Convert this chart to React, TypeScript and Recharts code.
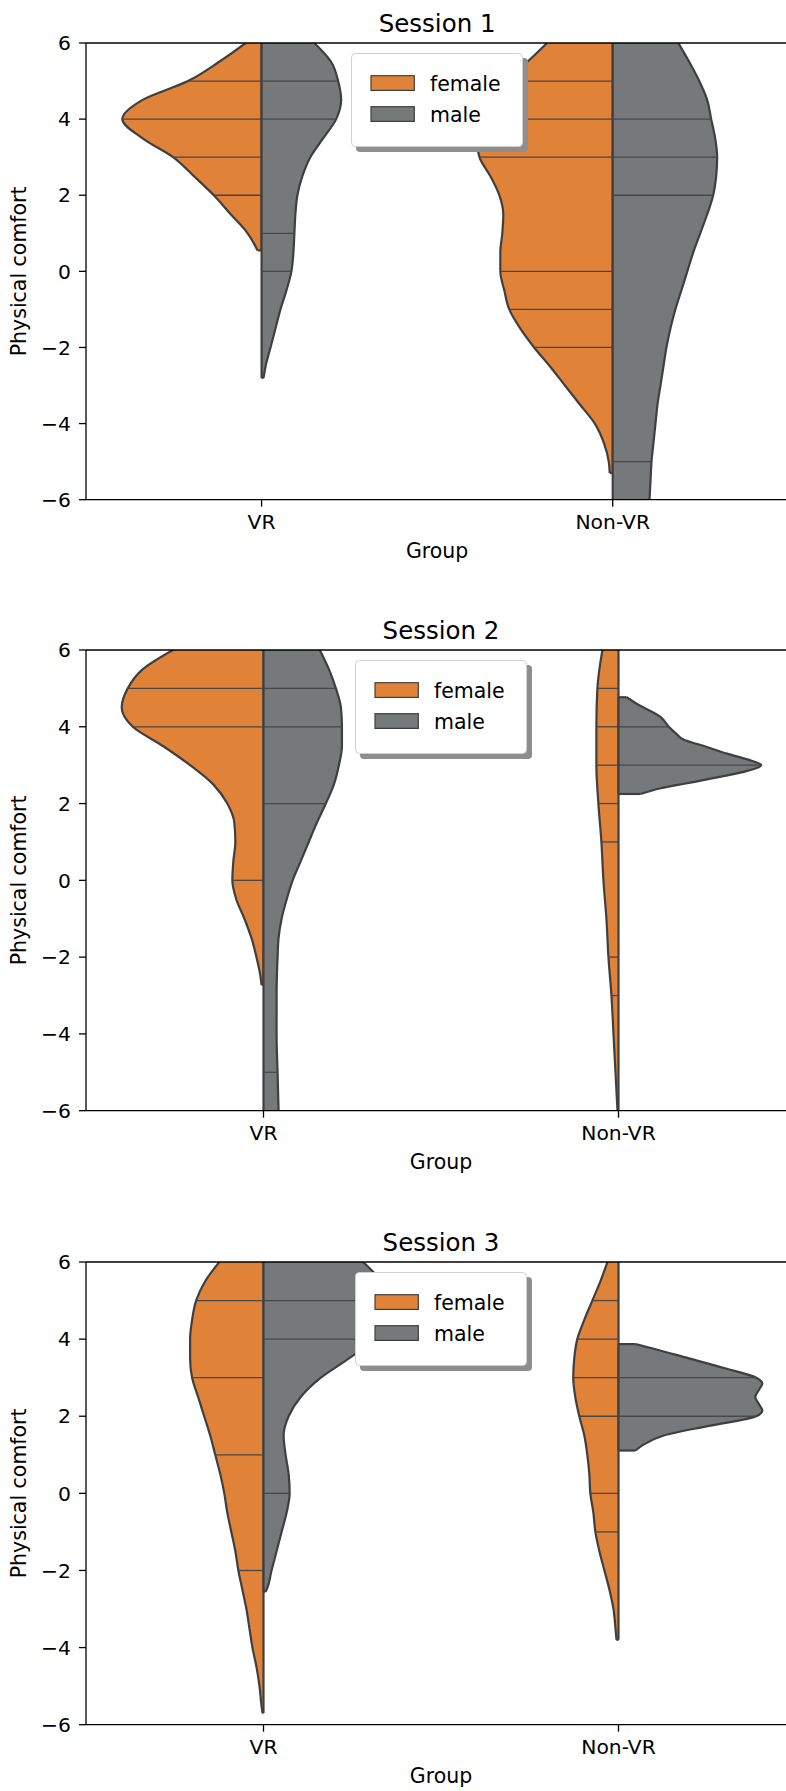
import { ComposedChart, Area, XAxis, YAxis, ReferenceLine } from 'recharts';

type Kde = [number, number][];

const groups = ['VR', 'Non-VR'];
const genders = ['female', 'male'];
const sessionTitles = ['Session 1', 'Session 2', 'Session 3'];
const comfortTicks = [-6, -4, -2, 0, 2, 4, 6];

// kde outlines per half violin: [comfort, density]
// session 1
const s1VrFemale: Kde = [[6, 16], [5.5, 43], [5, 74], [4.5, 120], [4, 140], [3.5, 120], [3, 89], [2.5, 68], [2, 48], [1.5, 31], [1, 14], [0.55, 4]];
const s1VrFemaleSticks = [5, 4, 3, 2];
const s1VrMale: Kde = [[6, 53], [5.5, 70], [5, 77], [4.5, 80], [4, 75], [3.5, 62], [3, 49], [2.5, 41], [2, 36], [1.5, 34], [1, 33], [0.5, 32], [0, 30], [-0.5, 25], [-1, 19], [-1.5, 14], [-2, 9], [-2.5, 4], [-2.8, 2]];
const s1VrMaleSticks = [5, 4, 1, 0];
const s1NonVrFemale: Kde = [[6, 66], [5.5, 86], [5, 108], [4.5, 124], [4, 133], [3.5, 137], [3, 134], [2.5, 123], [2, 114], [1.5, 110], [1, 111], [0.5, 113], [0, 113], [-0.5, 109], [-1, 104], [-1.5, 93], [-2, 79], [-2.5, 63], [-3, 48], [-3.5, 33], [-4, 18], [-4.5, 9], [-5, 4], [-5.3, 3]];
const s1NonVrFemaleSticks = [5, 4, 3, 0, -1, -2];
const s1NonVrMale: Kde = [[6, 66], [5.5, 77], [5, 87], [4.5, 95], [4, 99], [3.5, 103], [3, 105], [2.5, 104], [2, 101], [1.5, 95], [1, 88], [0.5, 81], [0, 75], [-0.5, 69], [-1, 63], [-1.5, 58], [-2, 54], [-2.5, 51], [-3, 48], [-3.5, 45], [-4, 43], [-4.5, 41], [-5, 39], [-5.5, 38], [-6, 37]];
const s1NonVrMaleSticks = [4, 3, 2, -5];

// session 2
const s2VrFemale: Kde = [[6, 90], [5.5, 120], [5, 135], [4.5, 141], [4, 130], [3.5, 100], [3, 73], [2.5, 50], [2, 36], [1.5, 29], [1, 28], [0.5, 30], [0, 31], [-0.5, 27], [-1, 19], [-1.5, 12], [-2, 7], [-2.5, 3], [-2.72, 2]];
const s2VrFemaleSticks = [5, 4, 0];
const s2VrMale: Kde = [[6, 56], [5.5, 65], [5, 72], [4.5, 77], [4, 78], [3.5, 78], [3, 75], [2.5, 70], [2, 62], [1.5, 53], [1, 45], [0.5, 37], [0, 29], [-0.5, 23], [-1, 18], [-1.5, 15], [-2, 14], [-3, 13], [-4, 13], [-5, 14], [-6, 15]];
const s2VrMaleSticks = [5, 4, 2, -5];
const s2NonVrFemale: Kde = [[6, 16], [5, 21], [4, 22], [3.5, 22], [3, 22], [2, 20], [1, 17], [0, 15], [-1, 12], [-2, 10], [-3, 7], [-4, 5], [-5, 3], [-6, 1]];
const s2NonVrFemaleSticks = [5, 4, 3, 2, 1, -2, -3];
const s2NonVrMale: Kde = [[4.77, 8], [4.6, 18], [4.25, 42], [4, 50], [3.83, 57], [3.66, 65], [3.5, 85], [3.3, 108], [3.15, 128], [3, 142], [2.85, 128], [2.7, 102], [2.53, 68], [2.4, 42], [2.25, 22]];
const s2NonVrMaleSticks = [4, 3];

// session 3
const s3VrFemale: Kde = [[6, 44], [5.5, 58], [5, 67], [4.5, 71], [4, 73], [3.5, 73], [3, 71], [2.5, 65], [2, 59], [1.5, 53], [1, 48], [0.5, 43], [0, 39], [-0.5, 36], [-1, 32], [-1.5, 28], [-2, 25], [-2.5, 21], [-3, 17], [-3.5, 14], [-4, 11], [-4.5, 7], [-5, 4], [-5.5, 2], [-5.7, 1]];
const s3VrFemaleSticks = [5, 3, 1, -2];
const s3VrMale: Kde = [[6, 99], [5.5, 117], [5, 124], [4.5, 120], [4, 110], [3.5, 85], [3, 57], [2.5, 37], [2, 25], [1.5, 20], [1, 22], [0.5, 25], [0, 26], [-0.5, 23], [-1, 18], [-1.5, 13], [-2, 8], [-2.5, 3], [-2.55, 2]];
const s3VrMaleSticks = [5, 4, 0];
const s3NonVrFemale: Kde = [[6, 11], [5.5, 18], [5, 26], [4.5, 34], [4, 41], [3.5, 44], [3, 45], [2.5, 43], [2, 39], [1.5, 34], [1, 31], [0.5, 29], [0, 28], [-0.5, 25], [-1, 23], [-1.5, 19], [-2, 14], [-2.5, 9], [-3, 5], [-3.5, 3], [-3.8, 2]];
const s3NonVrFemaleSticks = [5, 4, 3, 2, 0, -1];
const s3NonVrMale: Kde = [[3.87, 17], [3.75, 35], [3.5, 70], [3.25, 105], [3, 137], [2.85, 143], [2.7, 140], [2.5, 136], [2.3, 140], [2.15, 143], [2, 137], [1.75, 90], [1.5, 45], [1.25, 24], [1.11, 17]];
const s3NonVrMaleSticks = [3, 2];

type Violin = { group: number; gender: string; kde: Kde; sticks: number[] };

const sessions: Violin[][] = [
  [
    { group: 0, gender: 'female', kde: s1VrFemale, sticks: s1VrFemaleSticks },
    { group: 0, gender: 'male', kde: s1VrMale, sticks: s1VrMaleSticks },
    { group: 1, gender: 'female', kde: s1NonVrFemale, sticks: s1NonVrFemaleSticks },
    { group: 1, gender: 'male', kde: s1NonVrMale, sticks: s1NonVrMaleSticks },
  ],
  [
    { group: 0, gender: 'female', kde: s2VrFemale, sticks: s2VrFemaleSticks },
    { group: 0, gender: 'male', kde: s2VrMale, sticks: s2VrMaleSticks },
    { group: 1, gender: 'female', kde: s2NonVrFemale, sticks: s2NonVrFemaleSticks },
    { group: 1, gender: 'male', kde: s2NonVrMale, sticks: s2NonVrMaleSticks },
  ],
  [
    { group: 0, gender: 'female', kde: s3VrFemale, sticks: s3VrFemaleSticks },
    { group: 0, gender: 'male', kde: s3VrMale, sticks: s3VrMaleSticks },
    { group: 1, gender: 'female', kde: s3NonVrFemale, sticks: s3NonVrFemaleSticks },
    { group: 1, gender: 'male', kde: s3NonVrMale, sticks: s3NonVrMaleSticks },
  ],
];

const FONT = '"DejaVu Sans", sans-serif';
const COLORS: Record<string, string> = { female: '#E08339', male: '#75797A' };
const EDGE = '#3f3f3f';
const DENSITY_PER_GROUP = 353;
const TOP = 43;
const Y_AXIS_W = 86;
const X_AXIS_H = 80;

const frames = [
  { plotTop: 43.3, plotHeight: 456.7, plotRight: 788.3 },
  { plotTop: 650, plotHeight: 460.7, plotRight: 796 },
  { plotTop: 1262.3, plotHeight: 462.7, plotRight: 796 },
];

const fmtComfort = (v: number) => (v < 0 ? `\u2212${Math.abs(v)}` : String(v));

function widthAt(kde: Kde, y: number) {
  const sorted = [...kde].sort((a, b) => a[0] - b[0]);
  for (let i = 0; i < sorted.length; i++) {
    if (sorted[i][0] === y) return sorted[i][1];
    if (i > 0 && sorted[i - 1][0] < y && sorted[i][0] > y) {
      const t = (y - sorted[i - 1][0]) / (sorted[i][0] - sorted[i - 1][0]);
      return sorted[i - 1][1] + t * (sorted[i][1] - sorted[i - 1][1]);
    }
  }
  return 0;
}

function halfRange(v: Violin, density: number) {
  const w = density / DENSITY_PER_GROUP;
  return v.gender === 'female' ? [v.group - w, v.group] : [v.group, v.group + w];
}

function buildRows(violins: Violin[]) {
  const ys = Array.from(new Set(violins.flatMap((v) => v.kde.map((p) => p[0])))).sort((a, b) => a - b);
  return ys.map((y) => {
    const row: Record<string, any> = { y };
    violins.forEach((v, i) => {
      const hit = v.kde.find((p) => p[0] === y);
      row[`v${i}`] = hit ? halfRange(v, hit[1]) : [null, null];
    });
    return row;
  });
}

function SexLegend({ left, top }: { left: number; top: number }) {
  return (
    <div style={{ position: 'absolute', left, top, width: 178, height: 100 }}>
      <div style={{ position: 'absolute', left: 5, top: 5, width: 172, height: 94, background: '#8e8e8e', borderRadius: 4 }} />
      <svg style={{ position: 'absolute', left: 0, top: 0 }} width={174} height={96}>
        <rect x={0.5} y={0.5} width={171} height={93} rx={4} fill="#fff" stroke="#d0d0d0" strokeWidth={1} />
        {genders.map((g, i) => (
          <g key={g}>
            <rect x={20} y={22.7 + i * 31} width={43.3} height={14.7} fill={COLORS[g]} stroke={EDGE} strokeWidth={1.2} />
            <text x={79} y={37.7 + i * 31.7} fontSize={20.5} fontFamily={FONT} fill="#000">
              {g}
            </text>
          </g>
        ))}
      </svg>
    </div>
  );
}

function Panel({ index }: { index: number }) {
  const frame = frames[index];
  const violins = sessions[index];
  const rows = buildRows(violins);
  const height = TOP + frame.plotHeight + X_AXIS_H;
  const centre = (Y_AXIS_W + frame.plotRight) / 2;

  const marks: JSX.Element[] = [];
  violins.forEach((v, i) => {
    v.sticks.forEach((y) => {
      const [a, b] = halfRange(v, widthAt(v.kde, y));
      marks.push(
        <ReferenceLine key={`s${i}-${y}`} segment={[{ x: a, y }, { x: b, y }]} stroke="#474747" strokeWidth={1.3} />
      );
    });
    [v.kde[0], v.kde[v.kde.length - 1]].forEach((p) => {
      if (Math.abs(p[0]) >= 6) return;
      const [a, b] = halfRange(v, p[1]);
      marks.push(
        <ReferenceLine key={`c${i}-${p[0]}`} segment={[{ x: a, y: p[0] }, { x: b, y: p[0] }]} stroke={EDGE} strokeWidth={2.2} />
      );
    });
  });

  return (
    <>
      <div style={{ position: 'absolute', left: 0, top: frame.plotTop - TOP }}>
        <ComposedChart
          layout="vertical"
          width={frame.plotRight}
          height={height}
          data={rows}
          margin={{ top: TOP, right: 0, bottom: 0, left: 0 }}
        >
          <XAxis
            type="number"
            domain={[-0.5, 1.5]}
            ticks={[0, 1]}
            interval={0}
            allowDataOverflow
            height={X_AXIS_H}
            tickFormatter={(v: number) => groups[v]}
            tick={{ fontSize: 20.3, fill: '#000', fontFamily: FONT }}
            tickSize={7}
            tickMargin={8}
            axisLine={{ stroke: '#000', strokeWidth: 1.3 }}
            tickLine={{ stroke: '#000', strokeWidth: 1.3 }}
            label={{ value: 'Group', position: 'insideBottom', offset: 22, fontSize: 20.5, fill: '#000', fontFamily: FONT }}
          />
          <YAxis
            type="number"
            dataKey="y"
            reversed
            domain={[-6, 6]}
            ticks={comfortTicks}
            interval={0}
            allowDataOverflow
            width={Y_AXIS_W}
            tickFormatter={fmtComfort}
            tick={{ fontSize: 20.3, fill: '#000', fontFamily: FONT }}
            tickSize={7}
            tickMargin={8}
            axisLine={{ stroke: '#000', strokeWidth: 1.3 }}
            tickLine={{ stroke: '#000', strokeWidth: 1.3 }}
            label={{
              value: 'Physical comfort',
              angle: -90,
              position: 'insideLeft',
              offset: 19,
              fontSize: 20.5,
              fill: '#000',
              fontFamily: FONT,
              style: { textAnchor: 'middle' },
            }}
          />
          {violins.map((v, i) => (
            <Area
              key={`v${i}`}
              dataKey={`v${i}`}
              type="monotone"
              fill={COLORS[v.gender]}
              fillOpacity={1}
              stroke={EDGE}
              strokeWidth={2.2}
              connectNulls
              dot={false}
              activeDot={false}
              isAnimationActive={false}
            />
          ))}
          {marks}
          <ReferenceLine
            y={6}
            stroke="#000"
            strokeWidth={1.3}
            label={{ value: sessionTitles[index], position: 'top', offset: 11, fontSize: 24.5, fill: '#000', fontFamily: FONT }}
          />
          <ReferenceLine x={1.5} stroke="#000" strokeWidth={1.3} />
        </ComposedChart>
      </div>
      <SexLegend left={centre - 86} top={frame.plotTop + 10} />
    </>
  );
}

export default function App() {
  return (
    <div
      style={{
        position: 'absolute',
        left: 0,
        top: 0,
        width: 786,
        height: 1791,
        overflow: 'hidden',
        background: '#fff',
      }}
    >
      {sessionTitles.map((t, i) => (
        <Panel key={t} index={i} />
      ))}
    </div>
  );
}
